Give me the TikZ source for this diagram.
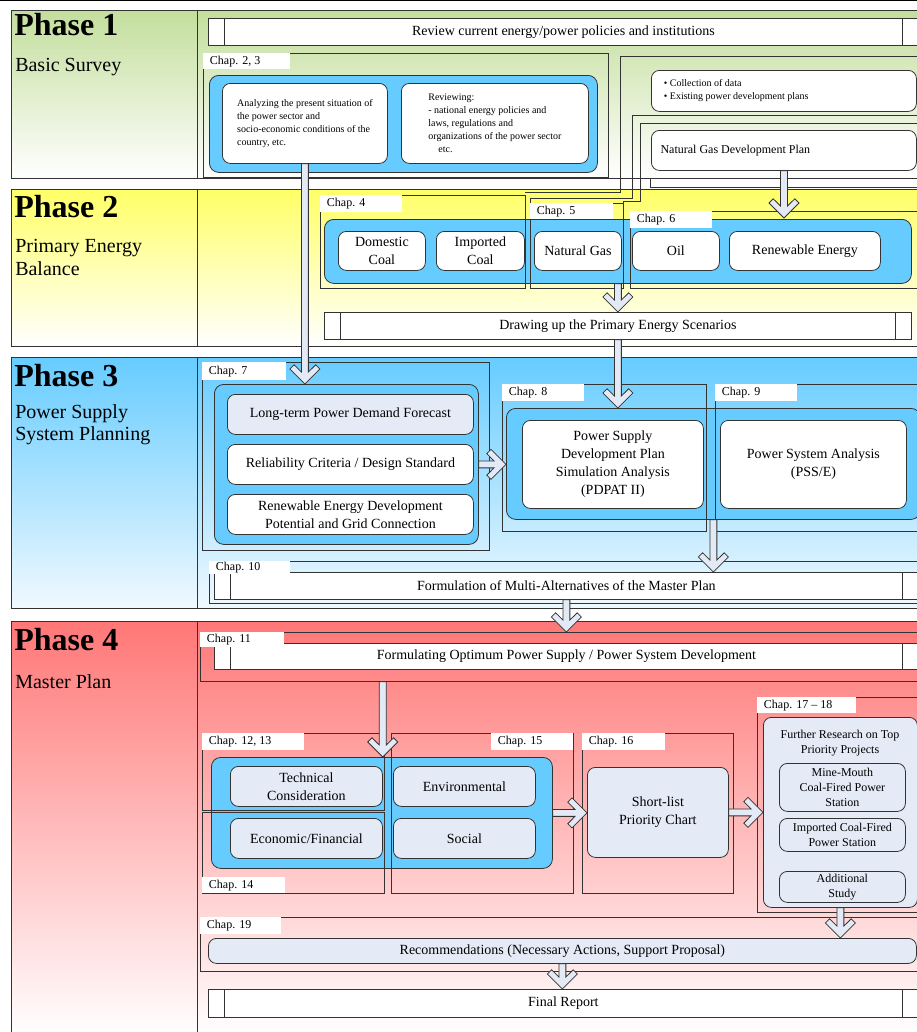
\documentclass[tikz,border=0pt]{standalone}
\usepackage{fontspec}
\setmainfont{Liberation Serif}
\usetikzlibrary{calc}
\definecolor{edge}{HTML}{333333}
\definecolor{bluec}{HTML}{66CCFF}
\definecolor{lightb}{HTML}{E4EAF6}
\definecolor{arrf}{HTML}{E3EAF5}
\definecolor{gA}{HTML}{C3DE9C}
\definecolor{gB}{HTML}{FFFF66}
\definecolor{gC}{HTML}{66CCFF}
\definecolor{gCb}{HTML}{F0F9FF}
\definecolor{gD}{HTML}{FF7777}
\newcommand\phf{\fontsize{24}{26}\selectfont\bfseries}
\newcommand\subf{\fontsize{15}{17}\selectfont}
\newcommand\txa{\fontsize{10.5}{13.5}\selectfont}
\newcommand\txb{\fontsize{9}{11}\selectfont}
\newcommand\txc{\fontsize{7.5}{9.8}\selectfont}
\newcommand\chf{\fontsize{9}{10}\selectfont}
\newcommand\bx[7][]{\node[anchor=north west, inner sep=1pt, minimum width={(#5-#3)*0.75pt}, minimum height={(#6-#4)*0.75pt}, #1] (#2) at (#3,#4) {#7};}
\newcommand\chp[6]{\node[anchor=north west, fill=white, inner sep=0pt, minimum height={(#5-#3)*0.75pt}, font=\chf] (#1) at (#2,#3) {\makebox[\dimexpr(#4pt-#2pt)*3/4\relax][l]{\hspace{5pt}#6}};}
\newcommand\darr[2]{\draw[barrow] let \p1=(#1), \p2=(#2) in (\x2-2.6pt,\y1) -- (\x2-2.6pt,\y2+9pt) -- (\x2-8.1pt,\y2+14.4pt) -- (\x2-11.25pt,\y2+11.25pt) -- (\x2,\y2) -- (\x2+11.25pt,\y2+11.25pt) -- (\x2+8.1pt,\y2+14.4pt) -- (\x2+2.6pt,\y2+9pt) -- (\x2+2.6pt,\y1) -- cycle;}
\newcommand\rarr[2]{\draw[barrow] let \p1=(#1), \p2=(#2) in (\x1,\y2+2.6pt) -- (\x2-9pt,\y2+2.6pt) -- (\x2-14.4pt,\y2+8.1pt) -- (\x2-11.25pt,\y2+11.25pt) -- (\x2,\y2) -- (\x2-11.25pt,\y2-11.25pt) -- (\x2-14.4pt,\y2-8.1pt) -- (\x2-9pt,\y2-2.6pt) -- (\x1,\y2-2.6pt) -- cycle;}
\tikzset{
 frm/.style={draw=edge, line width=0.6pt},
 cont/.style={draw=edge, fill=bluec, rounded corners=7pt, line width=0.6pt},
 wbox/.style={draw=edge, fill=white, rounded corners=6pt, line width=0.6pt, align=center, font=\txa},
 lbox/.style={wbox, fill=lightb},
 pbar/.style={draw=edge, fill=white, line width=0.6pt, font=\txa, path picture={\draw[edge, line width=0.6pt] ([xshift=12pt]path picture bounding box.north west) -- ([xshift=12pt]path picture bounding box.south west) ([xshift=-12pt]path picture bounding box.north east) -- ([xshift=-12pt]path picture bounding box.south east);}},
 barrow/.style={draw=edge, fill=arrf, line width=0.6pt},
 phbox/.style={draw=edge, line width=0.6pt},
 phtitle/.style={anchor=north west, inner sep=0pt, font=\phf},
 phsub/.style={anchor=north west, inner sep=0pt, font=\subf, align=left},
}
\begin{document}
\begin{tikzpicture}[x=0.75pt,y=-0.75pt]
\useasboundingbox (0,0) rectangle (917,1032);
\draw[black, line width=1pt] (0,0.7) -- (917,0.7);
% ---------- phase backgrounds
\draw[phbox, top color=gA, bottom color=white] (11,10) rectangle (197,178);
\draw[phbox, top color=gA, bottom color=white] (197,10) rectangle (920,178);
\draw[phbox, top color=gB, bottom color=white] (11,189) rectangle (197,346);
\draw[phbox, top color=gB, bottom color=white] (197,189) rectangle (920,346);
\draw[phbox, top color=gC, bottom color=gCb] (11,357) rectangle (197,608);
\draw[phbox, top color=gC, bottom color=gCb] (197,357) rectangle (920,608);
\draw[phbox, top color=gD, bottom color=white] (11,621) rectangle (197,1036);
\draw[phbox, top color=gD, bottom color=white] (197,621) rectangle (920,1036);
\node[phtitle] (ph1) at (14,13) {Phase 1};
\node[phsub] (ph1s) at (15,58) {Basic Survey};
\node[phtitle] (ph2) at (14,195) {Phase 2};
\node[phsub] (ph2s) at (15,239) {Primary Energy\\Balance};
\node[phtitle] (ph3) at (14,364) {Phase 3};
\node[phsub] (ph3s) at (15,404) {Power Supply\\System Planning};
\node[phtitle] (ph4) at (14,628) {Phase 4};
\node[phsub] (ph4s) at (15,674) {Master Plan};
% ---------- Phase 1
\bx[pbar]{bar1}{208}{18}{918}{45}{Review current energy/power policies and institutions}
\bx[frm]{f23}{203}{53}{608}{177}{}
\chp{l23}{203}{53}{290}{69}{Chap. 2, 3}
\bx[cont]{c23}{209}{75}{597}{172}{}
\bx[wbox, font=\txc, align=left]{b23a}{222}{83}{387}{163}{Analyzing the present situation of\\the power sector and\\socio-economic conditions of the\\country, etc.}
\bx[wbox, font=\txc, align=left]{b23b}{401}{83}{588}{163}{Reviewing:\\- national energy policies and\\laws, regulations and\\organizations of the power sector\\\quad etc.}
\draw[frm] (918,56) -- (620,56) -- (620,192) -- (525,192);
\draw[frm] (918,115) -- (632,115) -- (632,198) -- (530,198) -- (530,203);
\draw[frm] (918,123) -- (640,123) -- (640,201) -- (623,201) -- (623,203);
\draw[frm] (918,187) -- (650,187) -- (650,178);
\bx[wbox, font=\txc, align=left, anchor=north west]{bdat}{651}{70}{916}{111}{\makebox[180pt][l]{• Collection of data}\\\makebox[180pt][l]{• Existing power development plans}}
\bx[wbox, font=\txb]{bng}{651}{130}{916}{170}{\makebox[185pt][l]{Natural Gas Development Plan}}
% ---------- Phase 2
\bx[cont]{c2}{324}{219}{911}{283}{}
\coordinate (ngtip) at (784,218);
\bx[frm]{f4}{320}{195}{525}{288}{}
\bx[frm]{f5}{530}{203}{623}{288}{}
\bx[frm]{f6}{630}{211}{920}{288}{}
\chp{l4}{320}{195}{402}{212}{Chap. 4}
\chp{l5}{530}{203}{613}{219}{Chap. 5}
\chp{l6}{630}{211}{712}{228}{Chap. 6}
\bx[wbox]{dcoal}{338}{231}{425}{270}{Domestic\\Coal}
\bx[wbox]{icoal}{436}{231}{524}{270}{Imported\\Coal}
\bx[wbox]{ngas}{534}{231}{621}{270}{Natural Gas}
\bx[wbox]{oil}{632}{231}{719}{270}{Oil}
\bx[wbox]{renew}{729}{231}{880}{270}{Renewable Energy}
\bx[pbar]{bar2}{324}{312}{911}{339}{Drawing up the Primary Energy Scenarios}
% ---------- Phase 3
\bx[frm]{f7}{202}{362}{489}{550}{}
\chp{l7}{202}{362}{286}{380}{Chap. 7}
\bx[cont]{c7}{214}{384}{478}{544}{}
\bx[lbox]{b7a}{227}{394}{473}{434}{Long-term Power Demand Forecast}
\bx[wbox]{b7b}{227}{444}{473}{484}{Reliability Criteria / Design Standard}
\bx[wbox]{b7c}{227}{494}{473}{534}{Renewable Energy Development\\Potential and Grid Connection}
\bx[cont]{c89}{506}{408}{920}{519}{}
\bx[frm]{f8}{502}{384}{706}{531}{}
\bx[frm]{f9}{715}{384}{920}{531}{}
\chp{l8}{502}{384}{584}{401}{Chap. 8}
\chp{l9}{715}{384}{797}{401}{Chap. 9}
\bx[wbox]{b8}{522}{420}{703}{508}{Power Supply\\Development Plan\\Simulation Analysis\\(PDPAT II)}
\bx[wbox]{b9}{720}{420}{906}{508}{Power System Analysis\\(PSS/E)}
\bx[frm]{f10}{209}{561}{920}{603}{}
\bx[pbar]{bar3}{214}{572}{918}{599}{Formulation of Multi-Alternatives of the Master Plan}
\chp{l10}{209}{561}{290}{574}{Chap. 10}
% ---------- Phase 4
\bx[frm]{f11}{200}{632}{920}{681}{}
\bx[pbar]{bar4}{214}{643}{918}{669}{Formulating Optimum Power Supply / Power System Development}
\chp{l11}{200}{632}{284}{647}{Chap. 11}
\bx[cont]{c4}{211}{757}{552}{868}{}
\bx[frm]{f1213}{202}{733}{384}{810}{}
\bx[frm]{f14}{202}{812}{384}{893}{}
\bx[frm]{f15}{391}{733}{573}{893}{}
\chp{l1213}{202}{733}{304}{750}{Chap. 12, 13}
\chp{l14}{202}{877}{285}{893}{Chap. 14}
\chp{l15}{491}{733}{573}{750}{Chap. 15}
\bx[lbox]{tech}{230}{766}{382}{806}{Technical\\Consideration}
\bx[lbox]{econ}{230}{818}{382}{858}{Economic/Financial}
\bx[lbox]{env}{393}{766}{535}{806}{Environmental}
\bx[lbox]{soc}{393}{818}{535}{858}{Social}
\bx[frm]{f16}{582}{733}{733}{893}{}
\chp{l16}{582}{733}{665}{750}{Chap. 16}
\bx[lbox]{prio}{587}{767}{728}{857}{Short-list\\Priority Chart}
\bx[frm]{f17}{757}{697}{920}{912}{}
\chp{l17}{757}{697}{856}{713}{Chap. 17 -- 18}
\bx[lbox]{big}{763}{717}{917}{907}{}
\node[font=\txb, align=center, inner sep=0pt] (bigt) at (840,743) {Further Research on Top\\Priority Projects};
\bx[lbox, font=\txb]{s1}{779}{763}{905}{811}{Mine-Mouth\\Coal-Fired Power\\Station}
\bx[lbox, font=\txb]{s2}{779}{818}{905}{851}{Imported Coal-Fired\\Power Station}
\bx[lbox, font=\txb]{s3}{779}{871}{905}{902}{Additional\\Study}
\bx[frm]{f19}{200}{917}{920}{971}{}
\chp{l19}{200}{917}{281}{934}{Chap. 19}
\bx[lbox]{rec}{208}{938}{916}{963}{Recommendations (Necessary Actions, Support Proposal)}
\bx[pbar]{final}{208}{989}{918}{1017}{Final Report}
% ---------- arrows
\darr{b23a.south}{b23a.south |- c7.north}
\darr{bng.south}{ngtip}
\darr{c2.south}{bar2.north}
\darr{bar2.south}{bar2.south |- c89.north}
\rarr{c7.east}{c7.east -| c89.west}
\darr{c89.south}{c89.south |- bar3.north}
\darr{bar3.south}{bar3.south |- f11.north}
\darr{tech.east |- f11.south}{tech.east |- c4.north}
\rarr{c4.east}{c4.east -| prio.west}
\rarr{prio.east}{prio.east -| big.west}
\darr{big.south}{big.south |- rec.north}
\darr{rec.south}{rec.south |- final.north}
\end{tikzpicture}
\end{document}
